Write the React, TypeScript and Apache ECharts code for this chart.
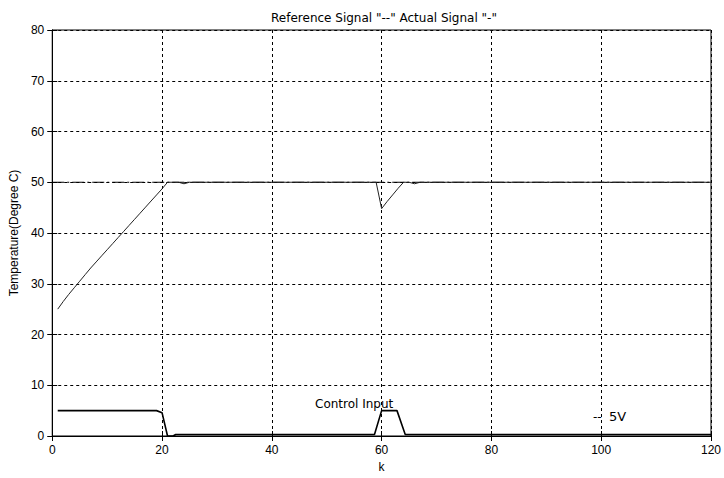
import React, { useEffect, useRef } from "react";
import * as echarts from "echarts";

const titleText = 'Reference Signal "--" Actual Signal "-"';
const xTicks = [0, 20, 40, 60, 80, 100, 120];
const yTicks = [0, 10, 20, 30, 40, 50, 60, 70, 80];

// Reference signal (set point)
const refK = [0, 120];
const refT = [50, 50];

// Actual temperature signal
const actK = [1, 2, 3, 4, 5, 6, 7, 8, 9, 10, 11, 12, 13, 14, 15, 16, 17, 18, 19, 20, 21, 23, 24, 25, 59, 60, 61, 62, 63, 64, 65, 66, 67, 120];
const actT = [25, 26.5, 27.9, 29.2, 30.5, 31.8, 33.1, 34.3, 35.5, 36.7, 37.9, 39.1, 40.3, 41.5, 42.7, 43.9, 45.1, 46.3, 47.5, 48.7, 50, 50, 49.7, 50, 50, 44.8, 46.2, 47.5, 48.8, 50, 50, 49.7, 50, 50];

// Control input
const ctlK = [1, 19, 20, 21, 22, 22.5, 58.7, 60, 62.8, 64.3, 120];
const ctlV = [5, 5, 4.6, 0, 0, 0.3, 0.3, 5, 5, 0.3, 0.3];

const zip = (a: number[], b: number[]) => a.map((v, i) => [v, b[i]]);

export default function App() {
  const ref = useRef<HTMLDivElement>(null);
  useEffect(() => {
    const chart = echarts.init(ref.current!, undefined, { renderer: "svg" });
    const font = "Liberation Sans, Arial, sans-serif";
    const wide = "DejaVu Sans, sans-serif";
    const gridLine = { show: true, lineStyle: { color: "#000", type: [3, 3], width: 1 } };
    chart.setOption({
      animation: false,
      backgroundColor: "#fff",
      title: {
        text: titleText,
        left: 379,
        top: 7,
        textAlign: "center",
        textStyle: { fontFamily: wide, fontSize: 12, fontWeight: "normal", color: "#000" },
      },
      grid: { left: 52, right: 10, top: 30, bottom: 34, show: true, borderColor: "#000", borderWidth: 1 },
      xAxis: [
        {
          type: "value",
          min: xTicks[0],
          max: xTicks[xTicks.length - 1],
          interval: 20,
          name: "k",
          nameLocation: "middle",
          nameGap: 25,
          nameTextStyle: { fontFamily: font, fontSize: 12, color: "#000" },
          axisLine: { show: true, onZero: false, lineStyle: { color: "#000" } },
          axisTick: { show: true, inside: true, length: 5, lineStyle: { color: "#000" } },
          axisLabel: { fontFamily: font, fontSize: 12, color: "#000", margin: 8 },
          splitLine: gridLine,
        },
        {
          type: "value",
          position: "top",
          min: 0,
          max: 120,
          interval: 20,
          axisLine: { show: true, lineStyle: { color: "#000" } },
          axisTick: { show: true, inside: true, length: 5, lineStyle: { color: "#000" } },
          axisLabel: { show: false },
          splitLine: { show: false },
        },
      ],
      yAxis: [
        {
          type: "value",
          min: yTicks[0],
          max: yTicks[yTicks.length - 1],
          interval: 10,
          name: "Temperature(Degree C)",
          nameLocation: "middle",
          nameGap: 30,
          nameTextStyle: { fontFamily: font, fontSize: 12, color: "#000" },
          axisLine: { show: true, onZero: false, lineStyle: { color: "#000" } },
          axisTick: { show: true, inside: true, length: 5, lineStyle: { color: "#000" } },
          axisLabel: { fontFamily: font, fontSize: 12, color: "#000", margin: 8 },
          splitLine: gridLine,
        },
        {
          type: "value",
          position: "right",
          min: 0,
          max: 80,
          interval: 10,
          axisLine: { show: true, lineStyle: { color: "#000" } },
          axisTick: { show: true, inside: true, length: 5, lineStyle: { color: "#000" } },
          axisLabel: { show: false },
          splitLine: { show: false },
        },
      ],
      series: [
        {
          name: "Reference",
          type: "line",
          data: zip(refK, refT),
          showSymbol: false,
          lineStyle: { color: "#000", width: 1, type: [12, 3, 2, 3] },
          z: 3,
        },
        {
          name: "Actual",
          type: "line",
          data: zip(actK, actT),
          showSymbol: false,
          lineStyle: { color: "#222", width: 1 },
          z: 4,
        },
        {
          name: "Control",
          type: "line",
          data: zip(ctlK, ctlV),
          showSymbol: false,
          lineStyle: { color: "#000", width: 1.6 },
          z: 4,
        },
      ],
      graphic: [
        {
          type: "text",
          left: 315,
          top: 398,
          style: { text: "Control Input", fontFamily: wide, fontSize: 12, fill: "#000" },
        },
        {
          type: "text",
          left: 593,
          top: 411,
          style: { text: "--", fontFamily: wide, fontSize: 12, fill: "#000" },
        },
        {
          type: "text",
          left: 609,
          top: 410,
          style: { text: "5V", fontFamily: wide, fontSize: 13, fill: "#000" },
        },
      ],
    });
    return () => chart.dispose();
  }, []);
  return <div ref={ref} style={{ width: 724, height: 478, position: "absolute", left: 0, top: 0 }} />;
}
